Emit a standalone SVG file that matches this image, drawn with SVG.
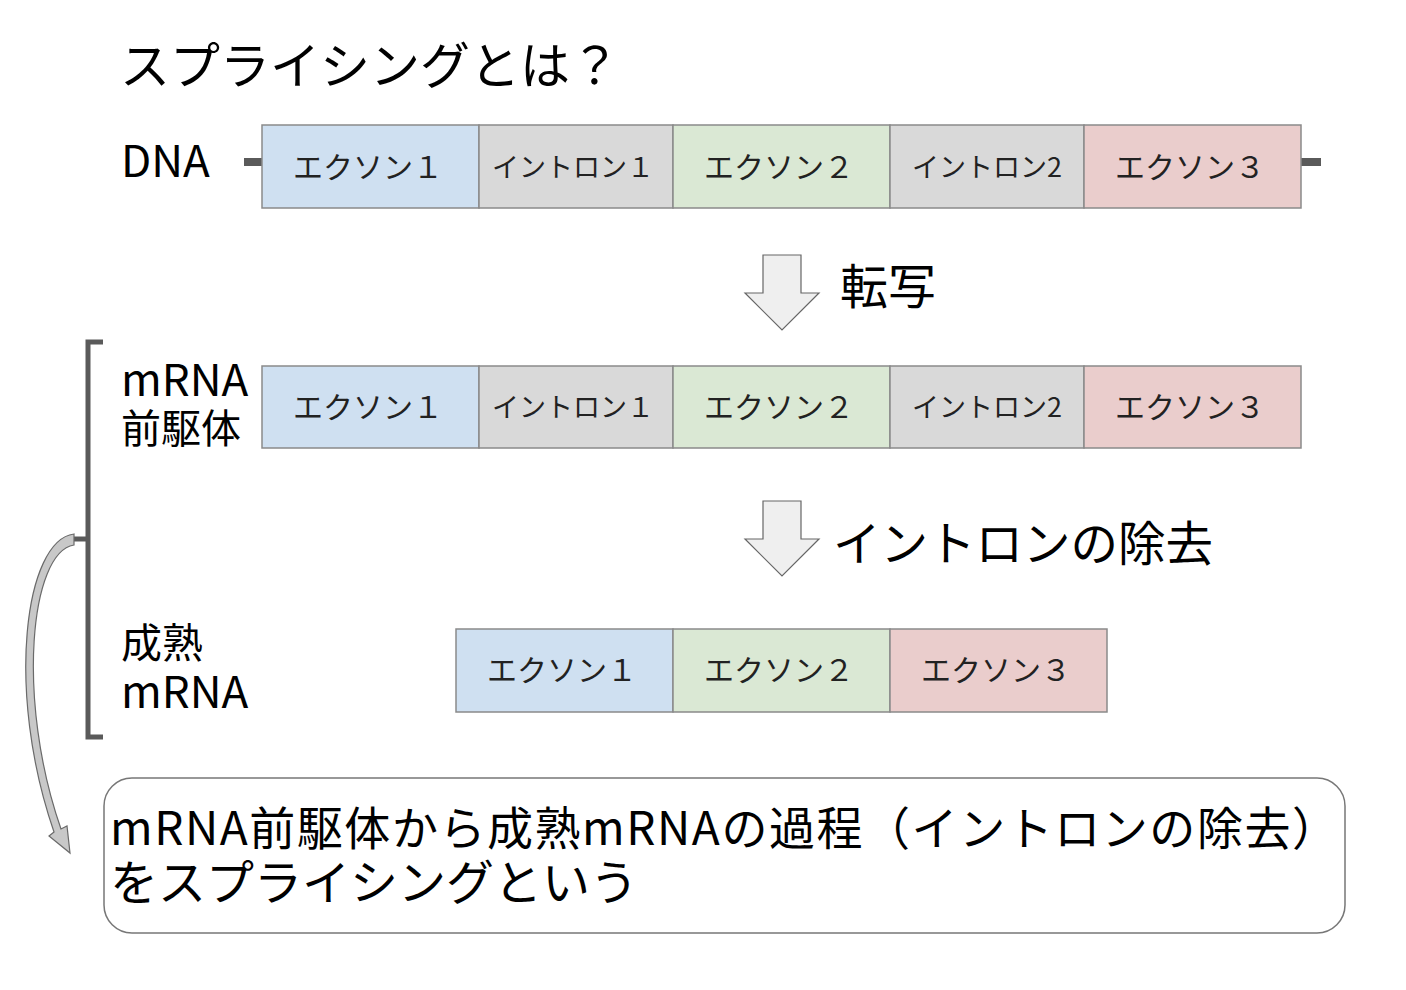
<svg xmlns="http://www.w3.org/2000/svg" width="1406" height="990" viewBox="0 0 1406 990">
<style>
text{font-family:"Noto Sans CJK JP","Noto Sans",sans-serif;fill:#000}
.lbl{font-size:44px}
.ex{font-size:30px;fill:#222;text-anchor:middle}
.in{font-size:27px;fill:#222;text-anchor:middle}
.box{stroke:#8a8a8a;stroke-width:1.5}
.b{fill:#cfe0f1}.g{fill:#d9d9d9}.gr{fill:#dae8d4}.r{fill:#eacdcc}
.barr{fill:#efefef;stroke:#666;stroke-width:1.2}
</style>
<rect width="1406" height="990" fill="#fff"/>
<text id="title" x="120" y="84" font-size="50">スプライシングとは？</text>

<g id="dna">
<text class="lbl" x="121" y="177" font-size="45">DNA</text>
<rect x="244" y="158" width="18" height="8" fill="#5a5a5a"/>
<rect x="1301" y="158" width="20" height="8" fill="#5a5a5a"/>
<g id="dna-e1"><rect class="box b" x="262" y="125" width="217" height="83"/><text class="ex" x="368" y="178">エクソン１</text></g>
<g id="dna-i1"><rect class="box g" x="479" y="125" width="194" height="83"/><text class="in" x="573" y="177">イントロン１</text></g>
<g id="dna-e2"><rect class="box gr" x="673" y="125" width="217" height="83"/><text class="ex" x="779" y="178">エクソン２</text></g>
<g id="dna-i2"><rect class="box g" x="890" y="125" width="194" height="83"/><text class="in" x="987" y="177">イントロン2</text></g>
<g id="dna-e3"><rect class="box r" x="1084" y="125" width="217" height="83"/><text class="ex" x="1190" y="178">エクソン３</text></g>
</g>

<g id="step1">
<polygon class="barr" points="763,255 801,255 801,293 819,293 782,330 745,293 763,293"/>
<text x="840" y="304" font-size="48">転写</text>
</g>

<g id="pre">
<text class="lbl" x="121" y="396">mRNA<tspan x="121" y="443" font-size="40">前駆体</tspan></text>
<g id="pre-e1"><rect class="box b" x="262" y="366" width="217" height="82"/><text class="ex" x="368" y="418">エクソン１</text></g>
<g id="pre-i1"><rect class="box g" x="479" y="366" width="194" height="82"/><text class="in" x="573" y="417">イントロン１</text></g>
<g id="pre-e2"><rect class="box gr" x="673" y="366" width="217" height="82"/><text class="ex" x="779" y="418">エクソン２</text></g>
<g id="pre-i2"><rect class="box g" x="890" y="366" width="194" height="82"/><text class="in" x="987" y="417">イントロン2</text></g>
<g id="pre-e3"><rect class="box r" x="1084" y="366" width="217" height="82"/><text class="ex" x="1190" y="418">エクソン３</text></g>
</g>

<g id="step2">
<polygon class="barr" points="763,501 801,501 801,539 819,539 782,576 745,539 763,539"/>
<text x="833" y="561" font-size="47.5">イントロンの除去</text>
</g>

<g id="mature">
<text class="lbl" x="121" y="658"><tspan font-size="41">成熟</tspan><tspan x="121" y="708">mRNA</tspan></text>
<g id="mat-e1"><rect class="box b" x="456" y="629" width="217" height="83"/><text class="ex" x="562" y="681">エクソン１</text></g>
<g id="mat-e2"><rect class="box gr" x="673" y="629" width="217" height="83"/><text class="ex" x="779" y="681">エクソン２</text></g>
<g id="mat-e3"><rect class="box r" x="890" y="629" width="217" height="83"/><text class="ex" x="996" y="681">エクソン３</text></g>
</g>

<g id="connectors">
<path d="M103,342 H88 V737 H103" fill="none" stroke="#5a5a5a" stroke-width="5"/>
<path d="M88,539 H74" stroke="#5a5a5a" stroke-width="5"/>
<path d="M74,534 C25,540 5,690 54,832 L49,836 L70,853 L67,826 L61,829 C16,700 30,552 74,545 Z" fill="#c8c8c8" stroke="#6a6a6a" stroke-width="1.2"/>
</g>

<g id="summary">
<rect x="104" y="778" width="1241" height="155" rx="28" fill="#fff" stroke="#777" stroke-width="1.5"/>
<text x="110" y="845" font-size="46"><tspan textLength="1228" lengthAdjust="spacing">mRNA前駆体から成熟mRNAの過程（イントロンの除去）</tspan><tspan x="110" y="900" font-size="48">をスプライシングという</tspan></text>
</g>
</svg>
